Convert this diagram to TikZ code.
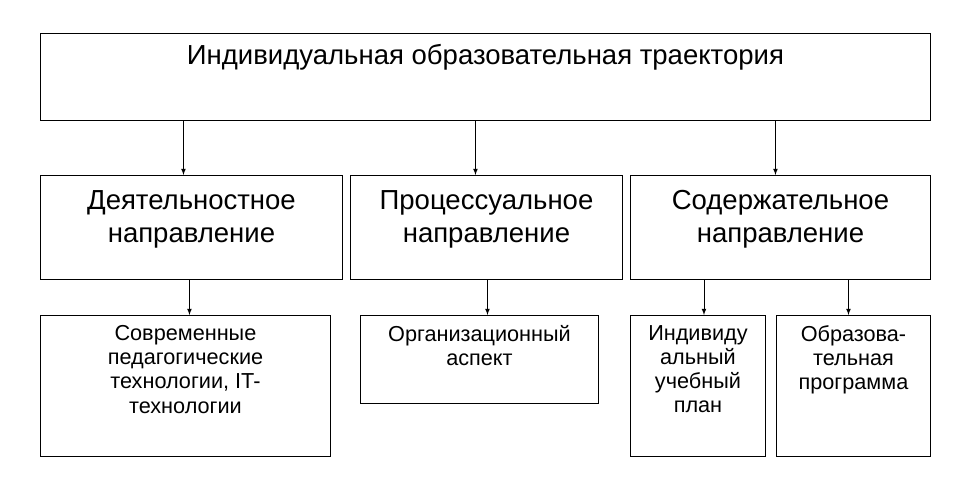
\documentclass[tikz,border=0pt]{standalone}
\usepackage{fontspec}
\setmainfont{Liberation Sans}
\begin{document}
\begin{tikzpicture}[x=0.03cm,y=-0.03cm,
  box/.style={draw=black, line width=0.8pt, anchor=north west, inner sep=0pt},
  big/.style={font=\fontsize{23.5}{28}\selectfont, align=center},
  mid/.style={font=\fontsize{23.5}{28.5}\selectfont, align=center},
  small/.style={font=\fontsize{18.5}{20.5}\selectfont, align=center},
  arr/.style={->, >=latex, line width=0.8pt}]
\useasboundingbox (0,0) rectangle (965,501);
\node[box, minimum width=890*0.03cm, minimum height=87*0.03cm] (top) at (40,33) {};
\node[box, minimum width=302*0.03cm, minimum height=104*0.03cm] (b1) at (40,175) {};
\node[box, minimum width=272*0.03cm, minimum height=104*0.03cm] (b2) at (350,175) {};
\node[box, minimum width=300*0.03cm, minimum height=104*0.03cm] (b3) at (630,175) {};
\node[box, minimum width=290*0.03cm, minimum height=141*0.03cm] (c1) at (40,315) {};
\node[box, minimum width=238*0.03cm, minimum height=88*0.03cm] (c2) at (360,315) {};
\node[box, minimum width=135*0.03cm, minimum height=141*0.03cm] (c3) at (630,315) {};
\node[box, minimum width=154*0.03cm, minimum height=141*0.03cm] (c4) at (776,315) {};

\node[big, anchor=north] (ttop) at ([yshift=-0.2cm]top.north) {Индивидуальная образовательная траектория};
\node[mid, anchor=north] (t1) at ([yshift=-0.33cm]b1.north) {Деятельностное\\направление};
\node[mid, anchor=north] (t2) at ([yshift=-0.33cm]b2.north) {Процессуальное\\направление};
\node[mid, anchor=north] (t3) at ([yshift=-0.33cm]b3.north) {Содержательное\\направление};
\node[small, anchor=north] (s1) at ([yshift=-0.2cm]c1.north) {Современные\\педагогические\\технологии, IT-\\технологии};
\node[small, anchor=north] (s2) at ([yshift=-0.2cm]c2.north) {Организационный\\аспект};
\node[small, anchor=north] (s3) at ([yshift=-0.2cm]c3.north) {Индивиду\\альный\\учебный\\план};
\node[small, anchor=north] (s4) at ([yshift=-0.2cm]c4.north) {Образова-\\тельная\\программа};

\draw[arr] ([xshift=-0.24cm]top.south -| b1.north) -- ([xshift=-0.24cm]b1.north);
\draw[arr] ([xshift=-0.33cm]top.south -| b2.north) -- ([xshift=-0.33cm]b2.north);
\draw[arr] ([xshift=-0.15cm]top.south -| b3.north) -- ([xshift=-0.15cm]b3.north);
\draw[arr] ([xshift=0.12cm]b1.south -| c1.north) -- ([xshift=0.12cm]c1.north);
\draw[arr] ([xshift=0.24cm]b2.south -| c2.north) -- ([xshift=0.24cm]c2.north);
\draw[arr] ([xshift=0.18cm]b3.south -| c3.north) -- ([xshift=0.18cm]c3.north);
\draw[arr] ([xshift=-0.15cm]b3.south -| c4.north) -- ([xshift=-0.15cm]c4.north);
\end{tikzpicture}
\end{document}
